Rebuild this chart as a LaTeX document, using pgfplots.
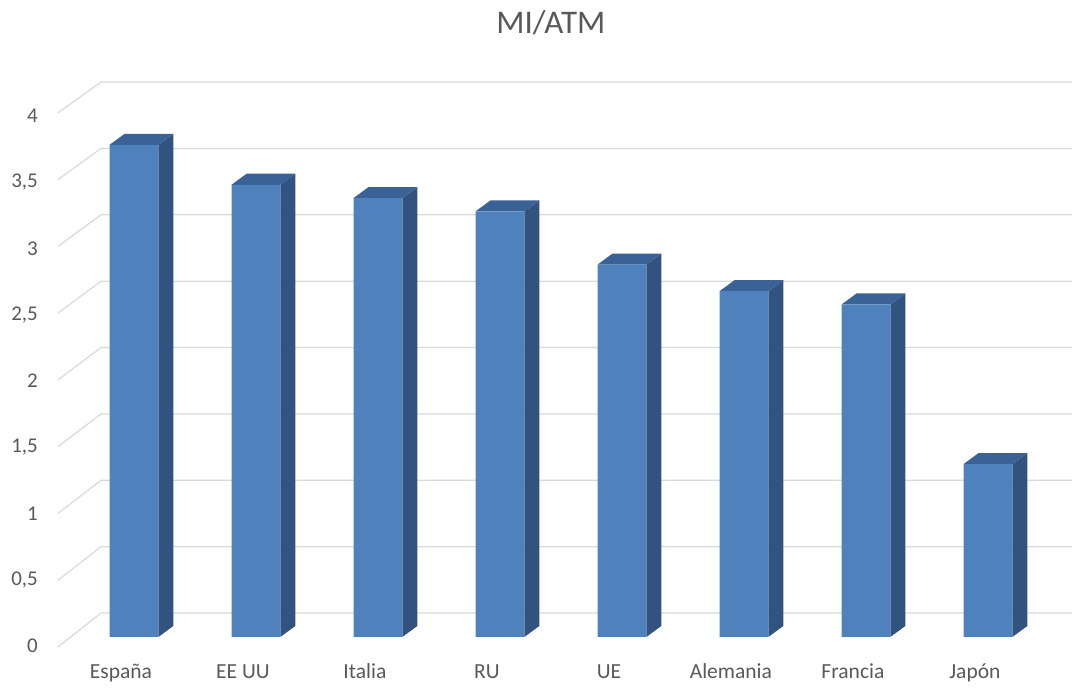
\documentclass[border=0pt]{standalone}
\usepackage{pgfplots}
\pgfplotsset{compat=1.18}
\usepackage{fontspec}
\setmainfont{Carlito}
\definecolor{barfront}{HTML}{4F81BD}
\definecolor{barside}{HTML}{32537F}
\definecolor{bartop}{HTML}{3A6296}
\definecolor{gridc}{HTML}{D9D9D9}
\definecolor{txt}{HTML}{595959}
\begin{document}
\begin{tikzpicture}
\begin{axis}[
  scale only axis, width=1026pt, height=590pt,
  xmin=-0.721, xmax=7.689, ymin=-0.098, ymax=4.338,
  axis line style={draw=none}, major tick length=0pt,
  tick style={draw=none},
  /pgf/number format/assume math mode=true,
  xtick={-0.107,0.893,1.893,2.893,3.893,4.893,5.893,6.893},
  xticklabels={España,EE UU,Italia,RU,UE,Alemania,Francia,Japón},
  xticklabel style={anchor=base, inner sep=0pt, yshift=-28.5pt, font=\fontsize{21.5}{23}\selectfont, text=txt},
  ytick={-0.06,0.438,0.936,1.434,1.932,2.43,2.928,3.426,3.924},
  yticklabels={0,{0,5},1,{1,5},2,{2,5},3,{3,5},4},
  yticklabel style={anchor=east, inner sep=0pt, xshift=-8pt, yshift=-1pt, font=\fontsize{21}{23}\selectfont, text=txt},
  title={MI/ATM},
  title style={at={(axis description cs:0.492,1)}, anchor=base, yshift=20pt, font=\fontsize{33}{35}\selectfont, text=txt},
]
% gridlines (left wall + back wall)
\addplot[gridc, line width=1.2pt] coordinates {(-0.623,-0.075) (-0.27,0.180) (7.689,0.180)};
\addplot[gridc, line width=1.2pt] coordinates {(-0.623,0.427) (-0.27,0.679) (7.689,0.679)};
\addplot[gridc, line width=1.2pt] coordinates {(-0.623,0.929) (-0.27,1.178) (7.689,1.178)};
\addplot[gridc, line width=1.2pt] coordinates {(-0.623,1.431) (-0.27,1.677) (7.689,1.677)};
\addplot[gridc, line width=1.2pt] coordinates {(-0.623,1.933) (-0.27,2.176) (7.689,2.176)};
\addplot[gridc, line width=1.2pt] coordinates {(-0.623,2.435) (-0.27,2.675) (7.689,2.675)};
\addplot[gridc, line width=1.2pt] coordinates {(-0.623,2.937) (-0.27,3.174) (7.689,3.174)};
\addplot[gridc, line width=1.2pt] coordinates {(-0.623,3.439) (-0.27,3.673) (7.689,3.673)};
\addplot[gridc, line width=1.2pt] coordinates {(-0.623,3.941) (-0.27,4.172) (7.689,4.172)};
% side faces
\addplot[fill=barside, draw=none] coordinates {(0.2,0) (0.323,0.083) (0.323,3.783) (0.2,3.7)} \closedcycle;
\addplot[fill=barside, draw=none] coordinates {(1.2,0) (1.323,0.083) (1.323,3.483) (1.2,3.4)} \closedcycle;
\addplot[fill=barside, draw=none] coordinates {(2.2,0) (2.323,0.083) (2.323,3.383) (2.2,3.3)} \closedcycle;
\addplot[fill=barside, draw=none] coordinates {(3.2,0) (3.323,0.083) (3.323,3.283) (3.2,3.2)} \closedcycle;
\addplot[fill=barside, draw=none] coordinates {(4.2,0) (4.323,0.083) (4.323,2.883) (4.2,2.8)} \closedcycle;
\addplot[fill=barside, draw=none] coordinates {(5.2,0) (5.323,0.083) (5.323,2.683) (5.2,2.6)} \closedcycle;
\addplot[fill=barside, draw=none] coordinates {(6.2,0) (6.323,0.083) (6.323,2.583) (6.2,2.5)} \closedcycle;
\addplot[fill=barside, draw=none] coordinates {(7.2,0) (7.323,0.083) (7.323,1.383) (7.2,1.3)} \closedcycle;
% top faces
\addplot[fill=bartop, draw=none] coordinates {(-0.2,3.7) (-0.077,3.783) (0.323,3.783) (0.2,3.7)} --cycle;
\addplot[fill=bartop, draw=none] coordinates {(0.8,3.4) (0.923,3.483) (1.323,3.483) (1.2,3.4)} --cycle;
\addplot[fill=bartop, draw=none] coordinates {(1.8,3.3) (1.923,3.383) (2.323,3.383) (2.2,3.3)} --cycle;
\addplot[fill=bartop, draw=none] coordinates {(2.8,3.2) (2.923,3.283) (3.323,3.283) (3.2,3.2)} --cycle;
\addplot[fill=bartop, draw=none] coordinates {(3.8,2.8) (3.923,2.883) (4.323,2.883) (4.2,2.8)} --cycle;
\addplot[fill=bartop, draw=none] coordinates {(4.8,2.6) (4.923,2.683) (5.323,2.683) (5.2,2.6)} --cycle;
\addplot[fill=bartop, draw=none] coordinates {(5.8,2.5) (5.923,2.583) (6.323,2.583) (6.2,2.5)} --cycle;
\addplot[fill=bartop, draw=none] coordinates {(6.8,1.3) (6.923,1.383) (7.323,1.383) (7.2,1.3)} --cycle;
% front faces
\addplot[ybar, bar width=0.4, fill=barfront, draw=none] coordinates {(0,3.7) (1,3.4) (2,3.3) (3,3.2) (4,2.8) (5,2.6) (6,2.5) (7,1.3)};
\end{axis}
\path ([xshift=-46pt,yshift=-37pt]current axis.south west) rectangle ([yshift=60pt]current axis.north east);
\end{tikzpicture}
\end{document}
